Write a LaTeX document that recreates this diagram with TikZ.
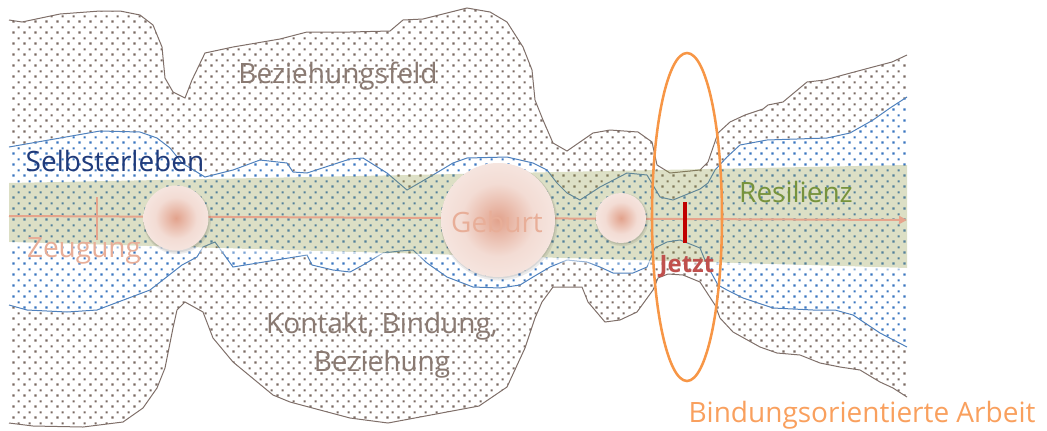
\documentclass[tikz,border=0pt]{standalone}
\usepackage{fontspec}
\setmainfont{Open Sans}
\usetikzlibrary{patterns,arrows.meta}
\definecolor{brownline}{HTML}{7F6F69}
\definecolor{browndot}{HTML}{7A6A63}
\definecolor{blueline}{HTML}{4F81BD}
\definecolor{bluedot}{HTML}{3A76C0}
\definecolor{bandgreen}{HTML}{8D9842}
\definecolor{salmon}{HTML}{E6A48C}
\definecolor{salmontext}{HTML}{E8AE98}
\definecolor{ballin}{HTML}{E2A28C}
\definecolor{ballmid}{HTML}{F3DCD4}
\definecolor{ballpale}{HTML}{F8EDE9}
\definecolor{ballout}{HTML}{FBF6F4}
\definecolor{labelbrown}{HTML}{8A7A72}
\definecolor{navy}{HTML}{1F3A7A}
\definecolor{resgreen}{HTML}{77933C}
\definecolor{orangeline}{HTML}{F79646}
\definecolor{orangetext}{HTML}{F9A05E}
\definecolor{jetztred}{HTML}{C0504D}
\definecolor{barred}{HTML}{C00000}
\pgfdeclarepatternformonly{stagdots}{\pgfqpoint{0pt}{0pt}}{\pgfqpoint{8.25pt}{8.25pt}}{\pgfqpoint{8.25pt}{8.25pt}}{%
  \pgfpathrectangle{\pgfqpoint{1.2pt}{1.2pt}}{\pgfqpoint{1.8pt}{1.8pt}}%
  \pgfpathrectangle{\pgfqpoint{5.325pt}{5.325pt}}{\pgfqpoint{1.8pt}{1.8pt}}%
  \pgfusepath{fill}}
\pgfdeclareradialshading{ball}{\pgfpointorigin}{color(0bp)=(ballin); color(16bp)=(ballmid); color(34bp)=(ballpale); color(50bp)=(ballout)}
\tikzset{
  lbl/.style={font=\fontsize{21}{25}\selectfont, anchor=base, inner sep=0pt},
  brownfield/.style={pattern=stagdots, pattern color=browndot},
  bluefield/.style={fill=white, postaction={pattern=stagdots, pattern color=bluedot}},
  ballnode/.style={circle, shading=ball, inner sep=0pt},
  shadowdisc/.style={fill=black, fill opacity=0.08},
  axisline/.style={salmon, line width=1.5pt},
}
\begin{document}
\begin{tikzpicture}[x=0.75pt, y=-0.75pt]
\useasboundingbox (0,0) rectangle (1047,430);
% outer field
\path[brownfield] (9,20) -- (22,22) -- (60,14) -- (100,11) -- (120,11) -- (140,15) -- (153,25) -- (162,47) -- (165,78) -- (173,92) -- (185,98) -- (192,80) -- (205,53) -- (233,47) -- (280,39) -- (307,32) -- (350,32) -- (390,31) -- (403,20) -- (423,19) -- (467,8) -- (490,12) -- (507,22) -- (523,47) -- (532,70) -- (535,100) -- (543,120) -- (553,143) -- (567,151) -- (593,133) -- (610,130) -- (638,132) -- (652,142) -- (657,165) -- (670,173) -- (700,170) -- (708,162) -- (718,133) -- (730,122) -- (745,115) -- (763,109) -- (768,105) -- (783,102) -- (807,82) -- (825,80) -- (843,75) -- (873,67) -- (892,62) -- (907,55) -- (907,397) -- (893,388) -- (880,382) -- (860,370) -- (840,367) -- (820,363) -- (800,355) -- (777,353) -- (760,347) -- (733,332) -- (720,318) -- (715,305) -- (700,282) -- (683,275) -- (668,274) -- (658,278) -- (653,290) -- (637,312) -- (620,320) -- (605,322) -- (588,302) -- (582,287) -- (553,287) -- (542,302) -- (535,318) -- (525,348) -- (507,387) -- (479,406) -- (388,423) -- (350,418) -- (290,402) -- (273,395) -- (233,362) -- (213,338) -- (203,312) -- (185,302) -- (177,310) -- (173,328) -- (165,368) -- (157,388) -- (143,408) -- (123,422) -- (83,427) -- (33,426) -- (9,423) -- cycle;
\draw[brownline, line width=0.75pt] (9,20) -- (22,22) -- (60,14) -- (100,11) -- (120,11) -- (140,15) -- (153,25) -- (162,47) -- (165,78) -- (173,92) -- (185,98) -- (192,80) -- (205,53) -- (233,47) -- (280,39) -- (307,32) -- (350,32) -- (390,31) -- (403,20) -- (423,19) -- (467,8) -- (490,12) -- (507,22) -- (523,47) -- (532,70) -- (535,100) -- (543,120) -- (553,143) -- (567,151) -- (593,133) -- (610,130) -- (638,132) -- (652,142) -- (657,165) -- (670,173) -- (700,170) -- (708,162) -- (718,133) -- (730,122) -- (745,115) -- (763,109) -- (768,105) -- (783,102) -- (807,82) -- (825,80) -- (843,75) -- (873,67) -- (892,62) -- (907,55);
\draw[brownline, line width=0.75pt] (907,397) -- (893,388) -- (880,382) -- (860,370) -- (840,367) -- (820,363) -- (800,355) -- (777,353) -- (760,347) -- (733,332) -- (720,318) -- (715,305) -- (700,282) -- (683,275) -- (668,274) -- (658,278) -- (653,290) -- (637,312) -- (620,320) -- (605,322) -- (588,302) -- (582,287) -- (553,287) -- (542,302) -- (535,318) -- (525,348) -- (507,387) -- (479,406) -- (388,423) -- (350,418) -- (290,402) -- (273,395) -- (233,362) -- (213,338) -- (203,312) -- (185,302) -- (177,310) -- (173,328) -- (165,368) -- (157,388) -- (143,408) -- (123,422) -- (83,427) -- (33,426) -- (9,423);
% inner field
\path[bluefield] (9,147) -- (100,131) -- (140,132) -- (157,138) -- (170,148) -- (182,163) -- (205,177) -- (233,170) -- (260,160) -- (287,163) -- (293,172) -- (307,173) -- (350,159) -- (363,158) -- (387,173) -- (407,190) -- (433,175) -- (453,163) -- (467,158) -- (507,157) -- (533,163) -- (547,170) -- (557,183) -- (567,193) -- (580,200) -- (600,187) -- (627,173) -- (647,175) -- (660,197) -- (673,200) -- (700,189) -- (708,183) -- (715,170) -- (727,157) -- (740,145) -- (767,140) -- (827,138) -- (850,133) -- (873,120) -- (890,108) -- (907,97) -- (907,347) -- (880,333) -- (853,315) -- (835,310) -- (813,310) -- (773,308) -- (743,298) -- (727,290) -- (718,285) -- (707,265) -- (700,248) -- (680,240) -- (667,242) -- (655,248) -- (647,267) -- (633,273) -- (613,273) -- (600,267) -- (587,262) -- (567,260) -- (550,267) -- (533,277) -- (520,285) -- (500,288) -- (473,287) -- (447,277) -- (427,263) -- (413,250) -- (400,251) -- (383,253) -- (363,265) -- (350,272) -- (333,270) -- (312,265) -- (307,255) -- (233,267) -- (215,242) -- (203,247) -- (197,257) -- (182,265) -- (150,290) -- (97,310) -- (67,312) -- (27,310) -- (9,305) -- cycle;
\draw[blueline, line width=0.75pt] (9,147) -- (100,131) -- (140,132) -- (157,138) -- (170,148) -- (182,163) -- (205,177) -- (233,170) -- (260,160) -- (287,163) -- (293,172) -- (307,173) -- (350,159) -- (363,158) -- (387,173) -- (407,190) -- (433,175) -- (453,163) -- (467,158) -- (507,157) -- (533,163) -- (547,170) -- (557,183) -- (567,193) -- (580,200) -- (600,187) -- (627,173) -- (647,175) -- (660,197) -- (673,200) -- (700,189) -- (708,183) -- (715,170) -- (727,157) -- (740,145) -- (767,140) -- (827,138) -- (850,133) -- (873,120) -- (890,108) -- (907,97);
\draw[blueline, line width=0.75pt] (907,347) -- (880,333) -- (853,315) -- (835,310) -- (813,310) -- (773,308) -- (743,298) -- (727,290) -- (718,285) -- (707,265) -- (700,248) -- (680,240) -- (667,242) -- (655,248) -- (647,267) -- (633,273) -- (613,273) -- (600,267) -- (587,262) -- (567,260) -- (550,267) -- (533,277) -- (520,285) -- (500,288) -- (473,287) -- (447,277) -- (427,263) -- (413,250) -- (400,251) -- (383,253) -- (363,265) -- (350,272) -- (333,270) -- (312,265) -- (307,255) -- (233,267) -- (215,242) -- (203,247) -- (197,257) -- (182,265) -- (150,290) -- (97,310) -- (67,312) -- (27,310) -- (9,305);
% resilience band
\fill[bandgreen, fill opacity=0.3] (9,183) -- (907,165) -- (907,268) -- (9,242) -- cycle;
\foreach \o/\a in {0/0.7,1.5/0.5,3/0.32,4.5/0.16}{
  \fill[white, fill opacity=\a] (9,242+\o) -- (907,268+\o) -- (907,269.5+\o) -- (9,243.5+\o) -- cycle;
}
% time axis
\coordinate (axL) at (9,216);
\coordinate (axR) at (907,220);
\coordinate (tkT) at (97,197);
\coordinate (tkB) at (97,240);
\draw[axisline, -{Triangle[length=6pt,width=6pt]}] (axL) -- (axR);
\draw[axisline] (tkT) -- (tkB);
% balls
\fill[shadowdisc] (177,220) circle (34);
\fill[shadowdisc] (176.5,219.5) circle (33);
\node[ballnode, minimum size=48.75pt] (b1) at (176,218) {};
\fill[shadowdisc] (499,222) circle (58.5);
\fill[shadowdisc] (498.5,221) circle (57.5);
\node[ballnode, minimum size=85.5pt] (b2) at (498,220) {};
\fill[shadowdisc] (622,219.5) circle (26.5);
\fill[shadowdisc] (621.5,219) circle (25.5);
\node[ballnode, minimum size=37.5pt] (b3) at (621,218) {};
% now marker
\coordinate (jT) at (685,202);
\coordinate (jB) at (685,243);
\draw[barred, line width=3pt] (jT) -- (jB);
% labels
\node[lbl, text=labelbrown] (bf) at (338,83) {Beziehungsfeld};
\node[lbl, text=navy] (se) at (115,171) {Selbsterleben};
\node[lbl, text=salmontext] (ze) at (84,257) {Zeugung};
\node[lbl, text=salmontext] (ge) at (497,232) {Geburt};
\node[lbl, text=resgreen] (re) at (796,202) {Resilienz};
\node[lbl, text=labelbrown] (k1) at (382,333) {Kontakt, Bindung,};
\node[lbl, text=labelbrown] (k2) at (382,371) {Beziehung};
\node[lbl, text=orangetext] (ba) at (862,422) {Bindungsorientierte Arbeit};
\node[lbl, font=\bfseries\fontsize{18}{20}\selectfont, text=jetztred] (je) at (687,272) {Jetzt};
% work ellipse
\draw[orangeline, line width=1.9pt] (687,217) ellipse [x radius=35, y radius=164];
\end{tikzpicture}
\end{document}
